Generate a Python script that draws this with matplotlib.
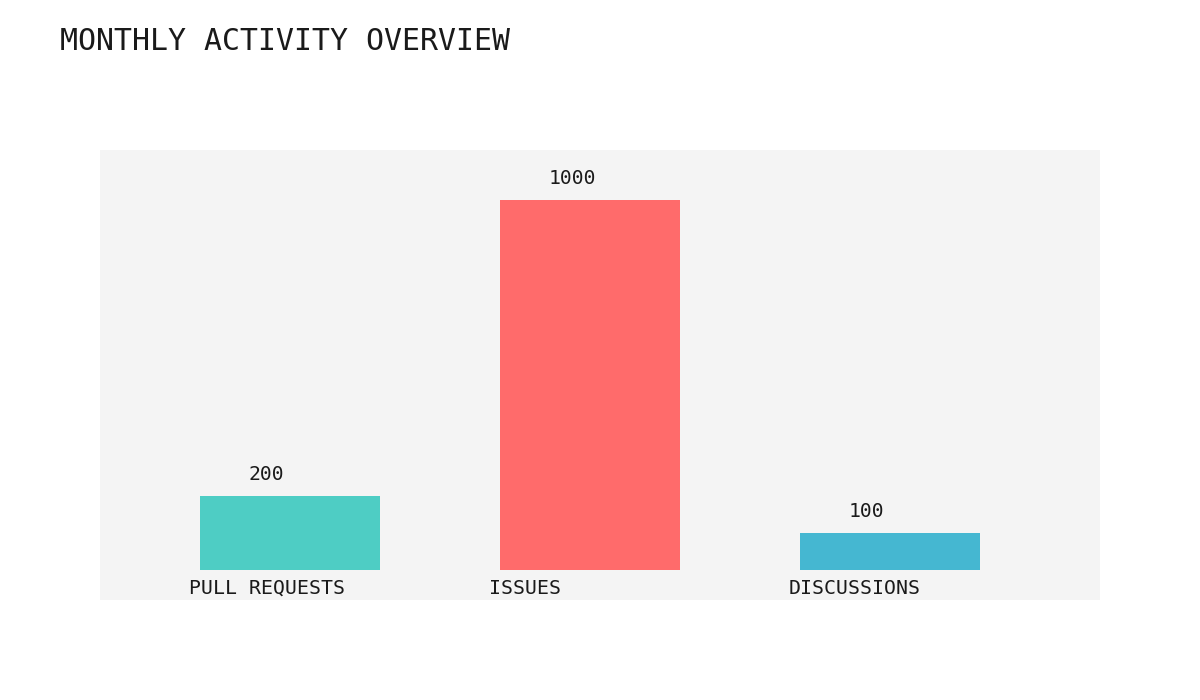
import matplotlib
matplotlib.use("Agg")
import matplotlib.pyplot as plt

categories = ["PULL REQUESTS", "ISSUES", "DISCUSSIONS"]
values = [200, 1000, 100]
colors = ["#4ECDC4", "#FF6B6B", "#45B7D1"]
title = "MONTHLY ACTIVITY OVERVIEW"

plt.rcParams['font.family'] = ['DejaVu Sans Mono']
TXT = "#1a1a1a"

fig = plt.figure(figsize=(12, 7), dpi=100)
fig.patch.set_facecolor("white")
ax = fig.add_axes([100/1200, 100/700, 1000/1200, 450/700])
ax.set_facecolor("#F4F4F4")

x = list(range(len(categories)))
bw = 0.6
ax.bar(x, values, width=bw, color=colors, zorder=2)

ax.set_xlim(-190/300, 810/300)
ax.set_ylim(-30/0.37, 420/0.37)

for xi, v, c in zip(x, values, categories):
    ax.annotate(str(v), xy=(xi - bw/2, v), xytext=(49, 16), textcoords="offset pixels",
                ha="left", va="baseline", fontsize=14.2, color=TXT)
    ax.annotate(c, xy=(xi - bw/2, 0), xytext=(-11, -24), textcoords="offset pixels",
                ha="left", va="baseline", fontsize=14.3, color=TXT)

for s in ax.spines.values():
    s.set_visible(False)
ax.set_xticks([])
ax.set_yticks([])

fig.text(60/1200, 1 - 50/700, title, ha="left", va="baseline", fontsize=21.5, color=TXT)

fig.savefig("out.png", dpi=100)
